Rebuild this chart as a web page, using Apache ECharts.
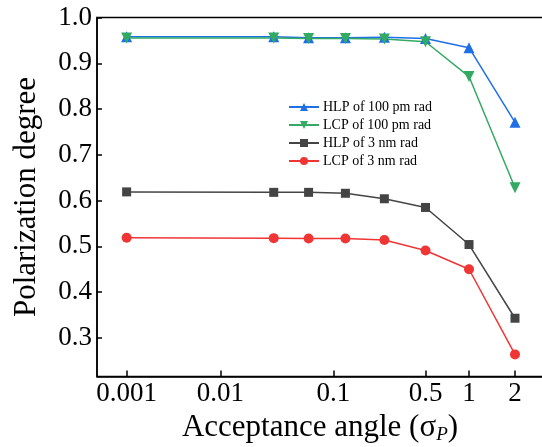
<!DOCTYPE html>
<html>
<head>
<meta charset="utf-8">
<script src="https://cdn.jsdelivr.net/npm/echarts@6/dist/echarts.min.js"></script>
<style>
  html, body { margin: 0; padding: 0; background: #fff; }
  #chart { width: 542px; height: 447px; }
</style>
</head>
<body>
<div id="chart"></div>
<script>
// acceptance angle values (sigma_P)
const sigma = [0.001, 0.03125, 0.0625, 0.125, 0.25, 0.5, 1, 2];
const hlp100 = [0.958, 0.958, 0.956, 0.956, 0.957, 0.954, 0.934, 0.771];
const lcp100 = [0.955, 0.955, 0.954, 0.954, 0.953, 0.947, 0.871, 0.628];
const hlp3 = [0.619, 0.618, 0.618, 0.616, 0.604, 0.585, 0.504, 0.343];
const lcp3 = [0.519, 0.518, 0.517, 0.517, 0.514, 0.491, 0.450, 0.264];
const xTicks = [0.001, 0.01, 0.1, 0.5, 1, 2];
const yTicks = [0.3, 0.4, 0.5, 0.6, 0.7, 0.8, 0.9, 1.0];

// the original x axis is a compressed (power) scale, not a plain log one
const K = 0.08;
function warp(s) { return Math.pow(s, K); }

const FONT = 'Liberation Serif';

let dom = document.getElementById('chart');
var myChart = echarts.init(dom);

function mk(name, data, color, symbol, size, rotate) {
    return {
        name: name,
        type: 'line',
        data: sigma.map((s, i) => [warp(s), data[i]]),
        symbol: symbol,
        symbolSize: size,
        symbolRotate: rotate || 0,
        lineStyle: { color: color, width: 1.5 },
        itemStyle: { color: color },
        animation: false
    };
}

let option = {
    backgroundColor: '#fff',
    grid: {
        left: 97,
        top: 17.5,
        width: 460,
        bottom: 70.5,
        outerBoundsMode: 'none',
        show: true,
        borderColor: '#000',
        borderWidth: 1.5
    },
    legend: {
        orient: 'vertical',
        left: 288,
        top: 100,
        padding: 0,
        itemWidth: 30,
        itemHeight: 10,
        itemGap: 4,
        textStyle: { fontFamily: FONT, fontSize: 14, color: '#000', lineHeight: 14, padding: [0, 0, 0, -1] },
        data: ['HLP of 100 pm rad', 'LCP of 100 pm rad', 'HLP of 3 nm rad', 'LCP of 3 nm rad']
    },
    xAxis: {
        type: 'value',
        min: 0.5387,
        max: 1.1091,
        splitLine: { show: false },
        axisLine: { lineStyle: { color: '#000', width: 1.5 } },
        axisTick: {
            inside: true, length: 6,
            lineStyle: { color: '#000', width: 1.5 },
            customValues: xTicks.map(warp)
        },
        axisLabel: {
            customValues: xTicks.map(warp),
            margin: 4,
            fontFamily: FONT, fontSize: 27, color: '#000',
            formatter: function (v) {
                for (let t of xTicks) {
                    if (Math.abs(warp(t) - v) < 1e-6) return String(t);
                }
                return '';
            }
        },
        name: '{a|Acceptance angle (σ}{b|P}{a|)}',
        nameLocation: 'middle',
        nameGap: 32,
        nameTextStyle: {
            padding: [0, 14, 0, 0],
            rich: {
                a: { fontFamily: FONT, fontSize: 31, color: '#000' },
                b: { fontFamily: FONT, fontSize: 19, fontStyle: 'italic', color: '#000', padding: [14, 0, 0, 0] }
            }
        }
    },
    yAxis: {
        type: 'value',
        min: 0.2157,
        max: 1.0,
        splitLine: { show: false },
        axisLine: { lineStyle: { color: '#000', width: 1.5 } },
        axisTick: {
            inside: true, length: 5,
            lineStyle: { color: '#000', width: 1.5 },
            customValues: yTicks
        },
        axisLabel: {
            customValues: yTicks,
            margin: 5,
            fontFamily: FONT, fontSize: 27, color: '#000',
            formatter: function (v) { return v.toFixed(1); }
        },
        name: 'Polarization degree',
        nameLocation: 'middle',
        nameGap: 55,
        nameTextStyle: { fontFamily: FONT, fontSize: 31, color: '#000' }
    },
    series: [
        mk('HLP of 100 pm rad', hlp100, '#1f6fe6', 'triangle', 11),
        mk('LCP of 100 pm rad', lcp100, '#33aa62', 'triangle', 11, 180),
        mk('HLP of 3 nm rad', hlp3, '#444444', 'rect', 9),
        mk('LCP of 3 nm rad', lcp3, '#f03535', 'circle', 10)
    ]
};
if (option && typeof option === "object") {
    myChart.setOption(option, true);
}
window.addEventListener("resize", function () {
    myChart.resize();
});
</script>
</body>
</html>
